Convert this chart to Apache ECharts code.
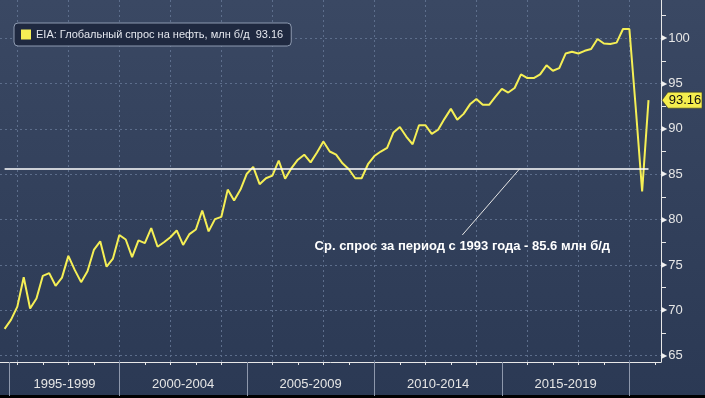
<!DOCTYPE html>
<html><head><meta charset="utf-8">
<script src="https://cdn.jsdelivr.net/npm/echarts@6/dist/echarts.min.js"></script>
<style>html,body{margin:0;padding:0;background:#2c3a55}#c{width:705px;height:398px}</style>
</head><body><div id="c"></div>
<script>
const seriesName = 'EIA: Глобальный спрос на нефть, млн б/д';
const firstYear = 1995, firstQuarter = 2;
const demand = [
  67.95, 68.94, 70.4,
  73.65, 70.2, 71.3, 73.8,
  74.1, 72.7, 73.6, 76.0,
  74.45, 73.1, 74.3, 76.65,
  77.6, 74.8, 75.7, 78.3,
  77.8, 75.85, 77.7, 77.4,
  79.05, 77.0, 77.5, 78.05,
  78.8, 77.2, 78.4, 78.9,
  81.0, 78.7, 80.05, 80.3,
  83.3, 82.1, 83.3, 85.05,
  85.8, 83.9, 84.55, 84.85,
  86.5, 84.5, 85.67, 86.6,
  87.15, 86.3, 87.4, 88.6,
  87.5, 87.15, 86.2, 85.55,
  84.55, 84.55, 86.1, 87.0,
  87.5, 87.9, 89.6, 90.2,
  89.15, 88.3, 90.4, 90.4,
  89.45, 89.9, 91.1, 92.2,
  91.0, 91.65, 92.7, 93.3,
  92.65, 92.65, 93.55, 94.4,
  94.0, 94.5, 96.0, 95.6,
  95.6, 96.0, 97.0, 96.4,
  96.7, 98.3, 98.5, 98.3,
  98.6, 98.8, 99.9, 99.4,
  99.35, 99.5, 101.0, 101.0,
  92.3, 83.1, 93.16
];
const average = 85.6;
const annotationText = 'Ср. спрос за период с 1993 года - 85.6 млн б/д';
const annotationLeader = [[2015.7, 85.6], [2013.45, 78.3]];
const yTicks = [65, 70, 75, 80, 85, 90, 95, 100];
const yMinorTicks = [67.5, 72.5, 77.5, 82.5, 87.5, 92.5, 97.5, 102.5];
const gridYears = [1996, 1998, 2000, 2002, 2004, 2006, 2008, 2010, 2012, 2014, 2016, 2018, 2020];
const yearTicks = [1996, 1997, 1998, 1999, 2000, 2001, 2002, 2003, 2004, 2005, 2006, 2007, 2008, 2009, 2010, 2011, 2012, 2013, 2014, 2015, 2016, 2017, 2018, 2019, 2020, 2021];
const bandLabels = ['1995-1999', '2000-2004', '2005-2009', '2010-2014', '2015-2019'];
const bandEdges = [1995.7, 2000, 2005, 2010, 2015, 2020];
const xMin = 1995.32, xMax = 2021.24, yMin = 64.3, yMax = 104.2;

// quarter-end time for each observation
const points = demand.map((v, i) => {
  const total = firstYear * 4 + (firstQuarter - 1) + i;
  const year = Math.floor(total / 4), q = total % 4 + 1;
  return [year + q / 4, v];
});
const tFirst = points[0][0], tLast = points[points.length - 1][0];
const last = demand[demand.length - 1];
const bandCenters = bandLabels.map((_, i) => (bandEdges[i] + bandEdges[i + 1]) / 2);

const FONT = 'Liberation Sans';
const YEL = '#f5ef55';
const chart = echarts.init(document.getElementById('c'));
chart.setOption({
  animation: false,
  backgroundColor: new echarts.graphic.LinearGradient(0, 0, 0, 1, [
    { offset: 0, color: '#3a4863' }, { offset: 1, color: '#2b3954' }
  ]),
  textStyle: { fontFamily: FONT },
  grid: { left: 0, right: 44, top: 0, bottom: 36, containLabel: false },
  legend: {
    left: 14, top: 23, padding: [6, 8, 6, 7],
    backgroundColor: '#1f2940', borderColor: '#8d9ab0', borderWidth: 1, borderRadius: 4,
    itemWidth: 10, itemHeight: 10, icon: 'rect',
    textStyle: { color: '#e4e7ee', fontSize: 11, fontFamily: FONT },
    formatter: n => n + '  ' + last.toFixed(2),
    data: [seriesName]
  },
  xAxis: [
    {
      type: 'value', min: xMin, max: xMax, position: 'bottom',
      axisLine: { show: true, onZero: false, lineStyle: { color: '#e8e8e8', width: 1 } },
      axisTick: { show: true, customValues: yearTicks, length: 3, lineStyle: { color: '#e8e8e8' } },
      axisLabel: { show: false }, splitLine: { show: false }
    },
    {
      type: 'value', min: xMin, max: xMax, position: 'bottom',
      axisLine: { show: false, onZero: false },
      axisTick: { show: false, customValues: gridYears },
      axisLabel: { show: false },
      splitLine: { show: true, lineStyle: { color: '#5d6e8c', type: [2, 3], width: 1 } }
    },
    {
      type: 'value', min: xMin, max: xMax, position: 'bottom',
      axisLine: { show: false, onZero: false },
      axisTick: { show: true, customValues: bandEdges, length: 34, lineStyle: { color: '#8e98ac', width: 1 } },
      axisLabel: {
        show: true, customValues: bandCenters, margin: 16, color: '#e6e6e6', fontSize: 13, fontFamily: FONT,
        formatter: v => { const i = bandCenters.findIndex(c => Math.abs(c - v) < 1e-6); return i >= 0 ? bandLabels[i] : ''; }
      },
      splitLine: { show: false }
    }
  ],
  yAxis: [
    {
      type: 'value', min: yMin, max: yMax, position: 'right',
      axisLine: { show: true, lineStyle: { color: '#e8e8e8', width: 1 } },
      axisTick: { show: false, customValues: yTicks },
      axisLabel: {
        show: true, customValues: yTicks, margin: 0,
        formatter: v => '{a|▶}{b|' + v + '}',
        rich: {
          a: { fontSize: 8, color: '#f0f0f0', fontFamily: 'DejaVu Sans' },
          b: { fontSize: 13, color: '#e6e6e6', fontFamily: FONT, padding: [0, 0, 0, 1] }
        }
      },
      splitLine: { show: true, lineStyle: { color: '#5d6e8c', type: [2, 3], width: 1 } }
    },
    {
      type: 'value', min: yMin, max: yMax, position: 'right',
      axisLine: { show: false },
      axisTick: { show: true, customValues: yMinorTicks, length: 5, lineStyle: { color: '#e8e8e8' } },
      axisLabel: { show: false }, splitLine: { show: false }
    }
  ],
  series: [{
    name: seriesName, type: 'line', xAxisIndex: 0, yAxisIndex: 0,
    data: points, showSymbol: false, symbol: 'none', clip: true,
    lineStyle: { color: YEL, width: 2 }, itemStyle: { color: YEL },
    markLine: {
      silent: true, symbol: 'none', label: { show: false },
      data: [
        [{ coord: [tFirst, average], lineStyle: { color: '#ffffff', width: 1.5, type: 'solid' } }, { coord: [tLast, average] }],
        [{ coord: annotationLeader[0], lineStyle: { color: '#e6e6e6', width: 1, type: 'solid' } }, { coord: annotationLeader[1] }]
      ]
    },
    markPoint: {
      silent: true,
      data: [
        {
          coord: [tLast, last], symbol: 'path://M0,8 L6,0 L40,0 L40,16 L6,16 Z', symbolSize: [40, 16],
          symbolKeepAspect: false, symbolOffset: [33.5, 0],
          itemStyle: { color: '#f5ee4e', borderColor: '#3a3a1a', borderWidth: 0.5 },
          label: { show: true, position: 'inside', offset: [3, 0], formatter: last.toFixed(2), color: '#111', fontSize: 13, fontFamily: FONT }
        },
        {
          coord: annotationLeader[1], symbol: 'circle', symbolSize: 0,
          label: { show: true, position: 'bottom', distance: 5, formatter: annotationText, color: '#ffffff', fontWeight: 'bold', fontSize: 13, fontFamily: FONT }
        }
      ]
    }
  }],
  graphic: [{ type: 'rect', left: 0, bottom: 0, shape: { width: 705, height: 3 }, style: { fill: '#000' }, silent: true }]
});
</script></body></html>
